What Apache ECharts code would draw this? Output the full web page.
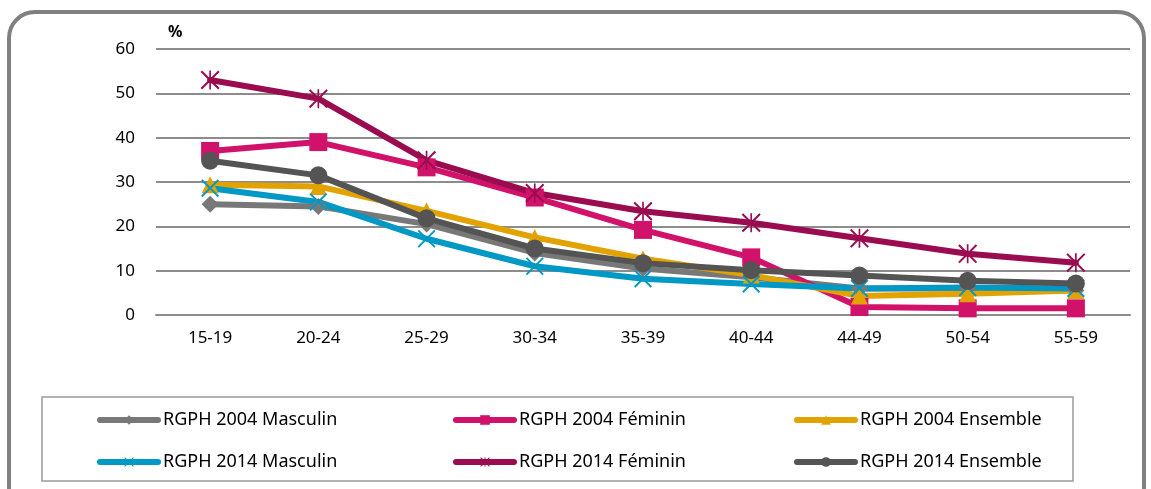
<!DOCTYPE html>
<html>
<head>
<meta charset="utf-8">
<script src="https://cdn.jsdelivr.net/npm/echarts@6/dist/echarts.min.js"></script>
<style>
  html, body { margin: 0; padding: 0; background: #fff; }
  #chart { width: 1151px; height: 489px; }
</style>
</head>
<body>
<div id="chart"></div>
<script>
const ageGroups = ["15-19", "20-24", "25-29", "30-34", "35-39", "40-44", "44-49", "50-54", "55-59"];

const masculin2004 = [25, 24.5, 20.5, 14, 10.5, 8.5, 6, 6, 5.5];
const feminin2004 = [37, 39, 33.3, 26.5, 19.2, 13, 1.8, 1.5, 1.5];
const ensemble2004 = [29.4, 29, 23.5, 17.5, 12.7, 9, 4.3, 4.8, 5.5];
const masculin2014 = [28.6, 25.5, 17.2, 11, 8.2, 7, 6, 6.2, 6];
const feminin2014 = [53, 48.8, 34.9, 27.5, 23.4, 20.8, 17.3, 13.8, 11.8];
const ensemble2014 = [34.8, 31.5, 21.8, 15, 11.7, 10.1, 8.9, 7.7, 7.1];

const crossPath = "path://M0,1.2L1.2,0L8,6.8L14.8,0L16,1.2L9.2,8L16,14.8L14.8,16L8,9.2L1.2,16L0,14.8L6.8,8Z";
const starPath = "path://M0,1.2L1.2,0L8,6.8L14.8,0L16,1.2L9.2,8L16,14.8L14.8,16L8,9.2L1.2,16L0,14.8L6.8,8Z M7.3,0L8.7,0L8.7,16L7.3,16Z";

function makeSeries(name, data, color, symbol, size) {
  return {
    name: name,
    type: "line",
    data: data,
    symbol: symbol,
    symbolSize: size,
    showSymbol: true,
    lineStyle: { color: color, width: 6, cap: "round", join: "round" },
    itemStyle: { color: color },
    emphasis: { disabled: true },
    animation: false,
  };
}

const chart = echarts.init(document.getElementById("chart"));

const font = "Noto Sans";
const legendBase = {
  orient: "vertical",
  top: 406,
  itemWidth: 58,
  itemHeight: 12,
  itemGap: 24,
  textStyle: { fontFamily: font, fontSize: 18, color: "#000" },
  lineStyle: { width: 6, cap: "round" },
  selectedMode: false,
};

chart.setOption({
  backgroundColor: "#fff",
  grid: { left: 156, right: 21, top: 49, bottom: 174 },
  graphic: [
    {
      type: "rect",
      shape: { x: 9, y: 12, width: 1135, height: 560, r: 26 },
      style: { fill: "none", stroke: "#808080", lineWidth: 4 },
      silent: true,
      z: -10,
    },
    {
      type: "rect",
      shape: { x: 42, y: 397, width: 1031, height: 84 },
      style: { fill: "none", stroke: "#9a9a9a", lineWidth: 1.5 },
      silent: true,
      z: -10,
    },
  ],
  xAxis: {
    type: "category",
    data: ageGroups,
    boundaryGap: true,
    axisLine: { lineStyle: { color: "#8c8c8c", width: 2 } },
    axisTick: { show: false },
    axisLabel: { fontFamily: font, fontSize: 17, color: "#000", margin: 15 },
  },
  yAxis: {
    type: "value",
    min: 0,
    max: 60,
    interval: 10,
    name: "%",
    nameLocation: "end",
    nameGap: 9,
    nameTextStyle: { fontFamily: font, fontSize: 16, fontWeight: "bold", color: "#000", align: "left", padding: [0, 0, 0, 12] },
    axisLine: { show: false },
    axisTick: { show: false },
    axisLabel: { fontFamily: font, fontSize: 17, color: "#000", margin: 21 },
    splitLine: { lineStyle: { color: "#8c8c8c", width: 2 } },
  },
  legend: [
    Object.assign({}, legendBase, { left: 92, data: ["RGPH 2004 Masculin", "RGPH 2014 Masculin"] }),
    Object.assign({}, legendBase, { left: 448, data: ["RGPH 2004 Féminin", "RGPH 2014 Féminin"] }),
    Object.assign({}, legendBase, { left: 789, data: ["RGPH 2004 Ensemble", "RGPH 2014 Ensemble"] }),
  ],
  series: [
    makeSeries("RGPH 2004 Masculin", masculin2004, "#787878", "diamond", 17),
    makeSeries("RGPH 2004 Féminin", feminin2004, "#d1126b", "rect", 18),
    makeSeries("RGPH 2004 Ensemble", ensemble2004, "#e2a300", "triangle", 17),
    makeSeries("RGPH 2014 Masculin", masculin2014, "#0098c4", crossPath, 18),
    makeSeries("RGPH 2014 Féminin", feminin2014, "#9a0c4f", starPath, 19),
    makeSeries("RGPH 2014 Ensemble", ensemble2014, "#545454", "circle", 18),
  ],
});
</script>
</body>
</html>
